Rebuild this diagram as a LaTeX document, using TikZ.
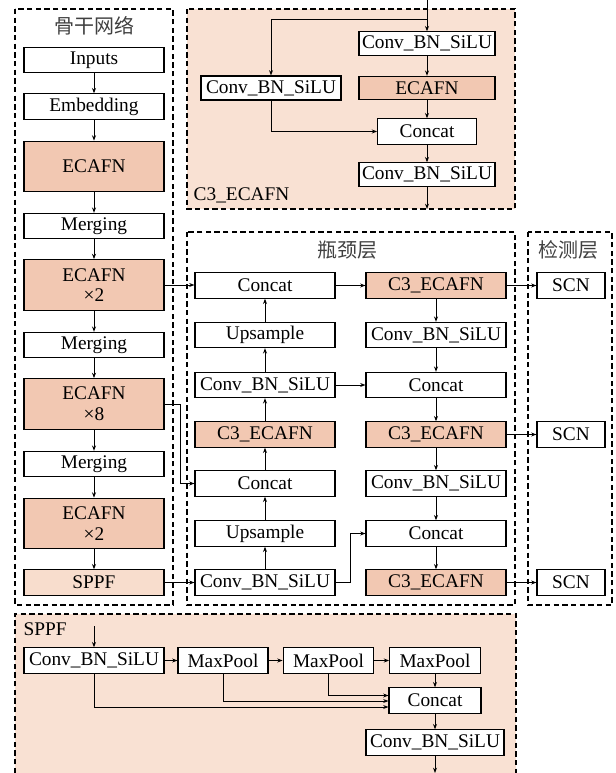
\documentclass[tikz,border=0pt]{standalone}
\usepackage{fontspec}
\setmainfont{Liberation Serif}
\newfontfamily\zhfont{Noto Sans CJK SC}
\usetikzlibrary{arrows.meta,calc}
\definecolor{ecafnfill}{RGB}{242,200,178}
\definecolor{peach}{RGB}{249,225,211}
\definecolor{sppffill}{RGB}{248,221,205}
\tikzset{
  blk/.style={draw,line width=0.8pt,fill=white,inner sep=0pt,minimum height=19pt,minimum width=105pt,align=center,font=\fontsize{14.5}{15.5}\selectfont},
  hot/.style={blk,fill=ecafnfill},
  grp/.style={dashed,dash pattern=on 4pt off 2.5pt,line width=0.8pt},
  arr/.style={-{Stealth[length=4pt,width=3pt]},line width=0.7pt},
  ttl/.style={font=\zhfont\fontsize{15}{17}\selectfont,text=black!75}
}
\begin{document}
\begin{tikzpicture}[x=0.75pt,y=-0.75pt]
	\useasboundingbox (0,0) rectangle (615,773);
	%group frames
	\draw[grp] (15,9) rectangle (173,605); %backbone
	\draw[grp,fill=peach] (187,9) rectangle (515,209); %C3_ECAFN
	\draw[grp] (187,232) rectangle (515,605); %neck
	\draw[grp] (528,232) rectangle (612,605); %head
	\fill[peach] (15,614) rectangle (516,773);
	\draw[grp] (15,773) -- (15,614) -- (516,614) -- (516,773); %SPPF
	
	%titles
	\node[ttl] (tbb) at (94,26) {骨干网络};
	\node[ttl] (tneck) at (347,250) {瓶颈层};
	\node[ttl] (thead) at (568,250) {检测层};
	\node[font=\fontsize{14.5}{15.5}\selectfont,anchor=west] (tc3) at (189,195) {C3\_ECAFN};
	\node[font=\fontsize{14.5}{15.5}\selectfont,anchor=west] (tsppf) at (19,629) {SPPF};
	
	%backbone
	\node[blk] (inputs) at (94,60) {Inputs};
	\node[blk] (embed) at (94,106.5) {Embedding};
	\node[hot,minimum height=38pt] (ecafn1) at (94,166.5) {ECAFN};
	\node[blk] (merge1) at (94,226) {Merging};
	\node[hot,minimum height=38pt] (ecafn2) at (94,285) {ECAFN\\×2};
	\node[blk] (merge2) at (94,345) {Merging};
	\node[hot,minimum height=38pt] (ecafn3) at (94,404) {ECAFN\\×8};
	\node[blk] (merge3) at (94,464) {Merging};
	\node[hot,minimum height=38pt] (ecafn4) at (94,523.5) {ECAFN\\×2};
	\node[blk,fill=sppffill] (sppf) at (94,582.5) {SPPF};
	\foreach \a/\b in {inputs/embed,embed/ecafn1,ecafn1/merge1,merge1/ecafn2,ecafn2/merge2,merge2/ecafn3,ecafn3/merge3,merge3/ecafn4,ecafn4/sppf}
	  \draw[arr] (\a) -- (\b);
	
	%neck, left column (upwards)
	\node[blk] (ncat1) at (265,285.5) {Concat};
	\node[blk] (nup1) at (265,335) {Upsample};
	\node[blk] (nconv1) at (265,385) {Conv\_BN\_SiLU};
	\node[hot] (nc3) at (265,434.5) {C3\_ECAFN};
	\node[blk] (ncat2) at (265,483.5) {Concat};
	\node[blk] (nup2) at (265,533.5) {Upsample};
	\node[blk] (nconv2) at (265,582.5) {Conv\_BN\_SiLU};
	\foreach \a/\b in {nconv2/nup2,nup2/ncat2,ncat2/nc3,nc3/nconv1,nconv1/nup1,nup1/ncat1}
	  \draw[arr] (\a) -- (\b);
	
	%neck, right column (downwards)
	\node[hot] (rc3a) at (436,285.5) {C3\_ECAFN};
	\node[blk] (rconv1) at (436,335) {Conv\_BN\_SiLU};
	\node[blk] (rcat1) at (436,385) {Concat};
	\node[hot] (rc3b) at (436,434.5) {C3\_ECAFN};
	\node[blk] (rconv2) at (436,483.5) {Conv\_BN\_SiLU};
	\node[blk] (rcat2) at (436,533.5) {Concat};
	\node[hot] (rc3c) at (436,582.5) {C3\_ECAFN};
	\foreach \a/\b in {rc3a/rconv1,rconv1/rcat1,rcat1/rc3b,rc3b/rconv2,rconv2/rcat2,rcat2/rc3c}
	  \draw[arr] (\a) -- (\b);
	\draw[arr] (ncat1) -- (rc3a);
	\draw[arr] (nconv1) -- (rcat1);
	\draw[arr] (nconv2.east) -- ++(15,0) |- (rcat2.west);
	
	%head
	\node[blk,minimum width=51pt] (scn1) at (571,285.5) {SCN};
	\node[blk,minimum width=51pt] (scn2) at (571,434.5) {SCN};
	\node[blk,minimum width=51pt] (scn3) at (571,582.5) {SCN};
	\draw[arr] (rc3a) -- (scn1);
	\draw[arr] (rc3b) -- (scn2);
	\draw[arr] (rc3c) -- (scn3);
	
	%backbone to neck
	\draw[arr] (ecafn2.east) -- (ecafn2.east -| ncat1.west);
	\draw[arr] (ecafn3.east) -- ++(16,0) |- (ncat2.west);
	\draw[arr] (sppf.east) -- (sppf.east -| nconv2.west);
	
	%C3_ECAFN block
	\node[blk,minimum width=102pt,minimum height=17.5pt] (cconv1) at (427,43.5) {Conv\_BN\_SiLU};
	\node[hot,minimum width=102pt,minimum height=17.5pt] (cecafn) at (427,88) {ECAFN};
	\node[blk,minimum width=105pt,minimum height=18pt] (cconv2) at (271,88) {Conv\_BN\_SiLU};
	\node[blk,minimum width=74pt] (ccat) at (427,131.5) {Concat};
	\node[blk,minimum width=102pt,minimum height=17.5pt] (cconv3) at (427,174.5) {Conv\_BN\_SiLU};
	\coordinate (cin) at (427,0);
	\coordinate (csplit) at (427,19);
	\coordinate (cout) at (427,209);
	\draw[line width=0.7pt] (cin) -- (csplit);
	\draw[arr] (csplit) -- (cconv1);
	\draw[arr] (csplit) -| (cconv2.north);
	\draw[arr] (cconv1) -- (cecafn);
	\draw[arr] (cecafn) -- (ccat);
	\draw[arr] (cconv2.south) |- (ccat.west);
	\draw[arr] (ccat) -- (cconv3);
	\draw[arr] (cconv3) -- (cout);
	
	%SPPF block
	\node[blk] (sconv1) at (94,660.5) {Conv\_BN\_SiLU};
	\node[blk,minimum width=67.5pt] (smp1) at (223,660.5) {MaxPool};
	\node[blk,minimum width=68pt] (smp2) at (328.5,660.5) {MaxPool};
	\node[blk,minimum width=68pt] (smp3) at (435,660.5) {MaxPool};
	\node[blk,minimum width=69pt] (scat) at (435,700.5) {Concat};
	\node[blk,minimum width=103.5pt] (sconv2) at (435,742.5) {Conv\_BN\_SiLU};
	\coordinate (sin) at (94,626);
	\coordinate (sout) at (435,773);
	\draw[arr] (sin) -- (sconv1);
	\draw[arr] (sconv1) -- (smp1);
	\draw[arr] (smp1) -- (smp2);
	\draw[arr] (smp2) -- (smp3);
	\draw[arr] (smp3) -- (scat);
	\draw[arr] (smp2.south) |- ($(scat.west)+(0,-5)$);
	\draw[arr] (smp1.south) |- ($(scat.west)+(0,0.5)$);
	\draw[arr] (sconv1.south) |- ($(scat.west)+(0,6.5)$);
	\draw[arr] (scat) -- (sconv2);
	\draw[arr] (sconv2) -- (sout);
\end{tikzpicture}
\end{document}
